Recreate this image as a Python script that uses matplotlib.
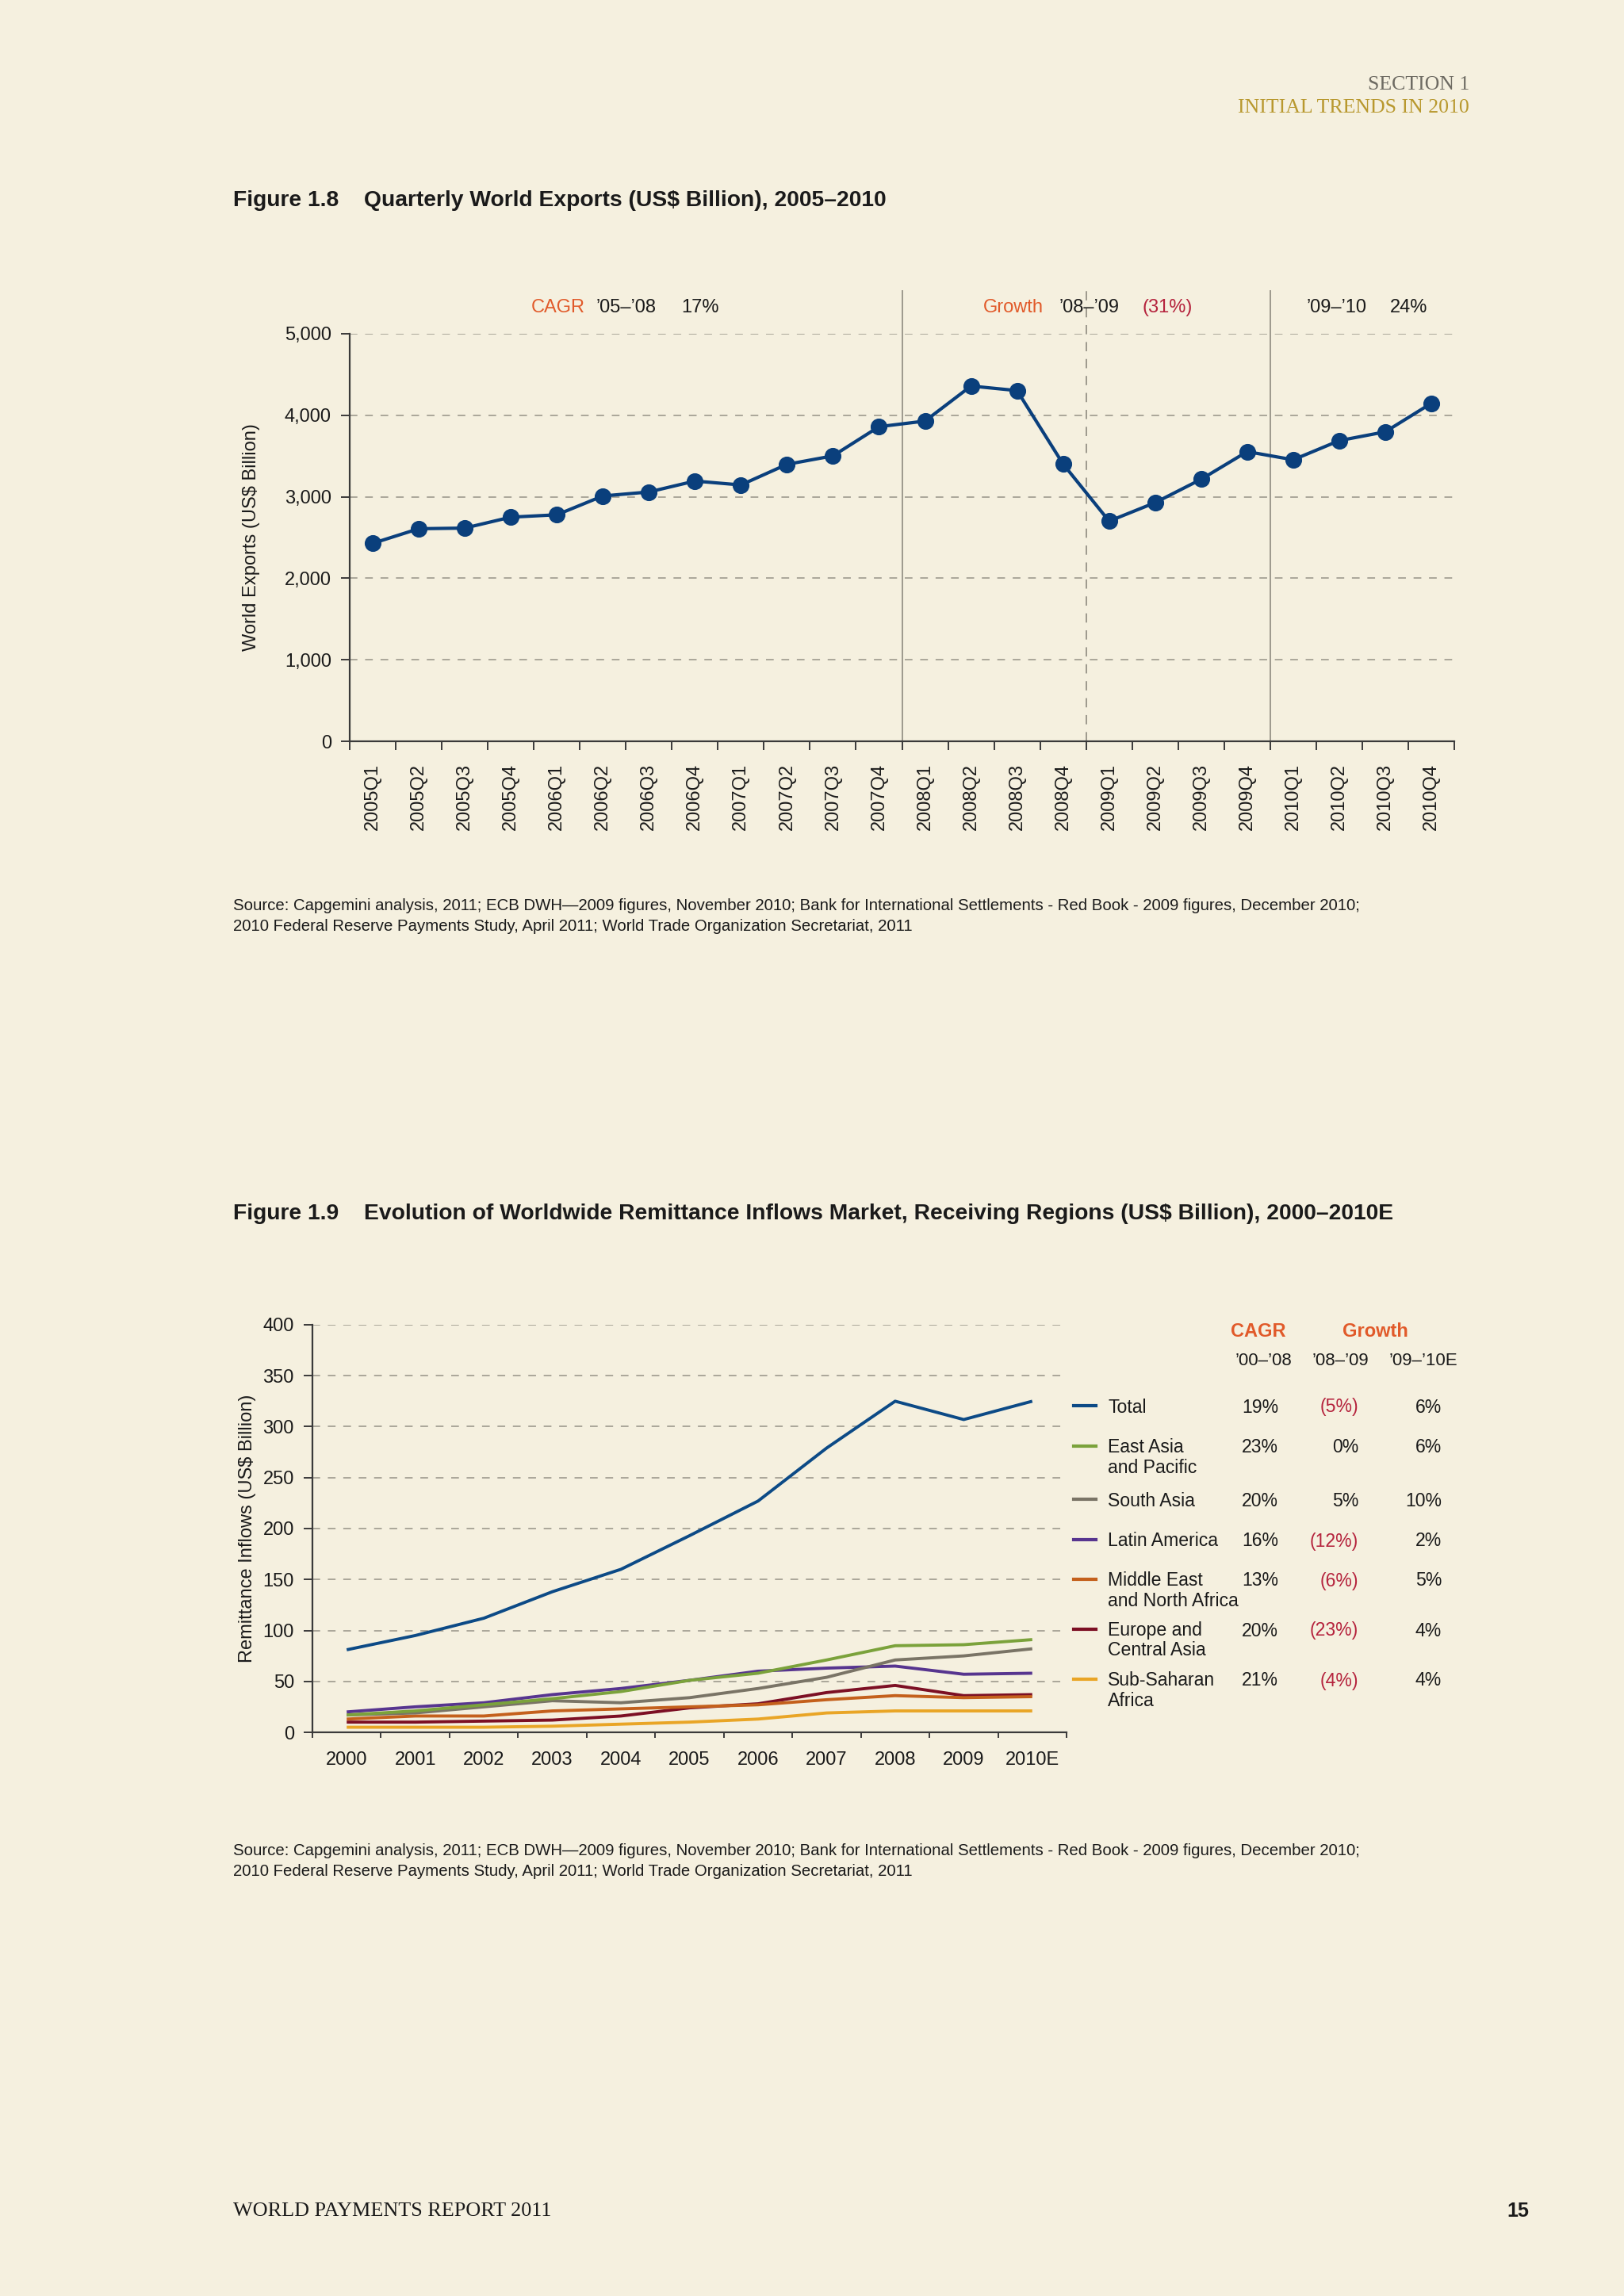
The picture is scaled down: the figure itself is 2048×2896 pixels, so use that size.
import matplotlib
matplotlib.use("Agg")
import matplotlib.pyplot as plt
from matplotlib.lines import Line2D
from matplotlib.ticker import FuncFormatter
import numpy as np

# page size in pixels, everything below is placed in page pixels
W, H = 2048, 2896
DPI = 200
BG = '#f5f0df'
INK = '#1a1a1a'
GRID = '#aaa69a'
ORANGE = '#e15a2a'
RED = '#b5233d'

plt.rcParams['font.family'] = ['Liberation Sans', 'DejaVu Sans']
plt.rcParams['font.size'] = 8.5

# Figure 1.8 data
quarters = ['2005Q1', '2005Q2', '2005Q3', '2005Q4', '2006Q1', '2006Q2', '2006Q3', '2006Q4',
            '2007Q1', '2007Q2', '2007Q3', '2007Q4', '2008Q1', '2008Q2', '2008Q3', '2008Q4',
            '2009Q1', '2009Q2', '2009Q3', '2009Q4', '2010Q1', '2010Q2', '2010Q3', '2010Q4']
exports = [2429, 2608, 2616, 2750, 2779, 3010, 3059, 3193, 3145, 3398, 3502, 3860,
           3929, 4359, 4303, 3402, 2701, 2928, 3215, 3554, 3454, 3689, 3797, 4147]

# Figure 1.9 data
years = ['2000', '2001', '2002', '2003', '2004', '2005', '2006', '2007', '2008', '2009', '2010E']
total = [81, 95, 112, 138, 160, 193, 227, 279, 325, 307, 325]
east_asia = [17, 21, 27, 33, 40, 51, 58, 71, 85, 86, 91]
south_asia = [17, 19, 25, 31, 29, 34, 43, 54, 71, 75, 82]
latin_america = [20, 25, 29, 37, 43, 51, 60, 63, 65, 57, 58]
mid_east = [13, 16, 16, 21, 23, 25, 27, 32, 36, 34, 35]
europe_ca = [10, 10, 11, 12, 16, 24, 28, 39, 46, 36, 37]
sub_saharan = [5, 5, 5, 6, 8, 10, 13, 19, 21, 21, 21]

region_labels = ['Total', 'East Asia\nand Pacific', 'South Asia', 'Latin America',
                 'Middle East\nand North Africa', 'Europe and\nCentral Asia', 'Sub-Saharan\nAfrica']
region_colors = ['#0c4a86', '#7ba23b', '#7a7466', '#57358f', '#c4601c', '#7c0f24', '#e9a526']
cagr_00_08 = ['19%', '23%', '20%', '16%', '13%', '20%', '21%']
growth_08_09 = ['(5%)', '0%', '5%', '(12%)', '(6%)', '(23%)', '(4%)']
growth_09_10 = ['6%', '6%', '10%', '2%', '5%', '4%', '4%']

source_lines = ['Source: Capgemini analysis, 2011; ECB DWH\u20142009 figures, November 2010; Bank for International Settlements - Red Book - 2009 figures, December 2010;',
                '2010 Federal Reserve Payments Study, April 2011; World Trade Organization Secretariat, 2011']


def px(x):
    return x / W


def py(y):
    return 1 - y / H


def axes_box(left, top, right, bottom):
    return [px(left), py(bottom), px(right) - px(left), py(top) - py(bottom)]


def style_axes(ax):
    ax.set_facecolor('none')
    for s in ['top', 'right']:
        ax.spines[s].set_visible(False)
    for s in ['left', 'bottom']:
        ax.spines[s].set_color('#3a3a3a')
        ax.spines[s].set_linewidth(0.8)
    ax.yaxis.grid(True, color=GRID, lw=0.7, ls=(0, (5, 5)))
    ax.set_axisbelow(True)
    ax.tick_params(axis='y', length=4, width=0.7, color='#3a3a3a', pad=4.3, labelcolor=INK)
    ax.tick_params(axis='x', which='major', width=0.7, color='#3a3a3a')
    ax.tick_params(axis='x', which='minor', length=0, labelcolor=INK)


def ftext(x, y, s, **kw):
    kw.setdefault('va', 'center')
    kw.setdefault('color', INK)
    fig.text(px(x), py(y), s, **kw)


fig = plt.figure(figsize=(W / DPI, H / DPI), dpi=DPI, facecolor=BG)

# page header / footer
ftext(1853, 107, 'SECTION 1', ha='right', family='Liberation Serif', size=9.3, color='#6d6a62')
ftext(1853, 136, 'INITIAL TRENDS IN 2010', ha='right', family='Liberation Serif', size=9.3, color='#b8982e')
ftext(294, 2789, 'WORLD PAYMENTS REPORT 2011', family='Liberation Serif', size=9.4)
ftext(1928, 2789, '15', ha='right', fontweight='bold', size=9)

# ---- Figure 1.8 ----
ftext(294, 253, 'Figure 1.8', fontweight='bold', size=10.2)
ftext(459, 253, 'Quarterly World Exports (US$ Billion), 2005\u20132010', fontweight='bold', size=10.2)

ax1 = fig.add_axes(axes_box(441, 421, 1834, 935))
style_axes(ax1)
xq = np.arange(len(quarters))
ax1.plot(xq, exports, color='#0a3f7c', lw=1.5, marker='o', ms=6.6, zorder=3, clip_on=False)
ax1.set_xlim(-0.5, len(quarters) - 0.5)
ax1.set_ylim(0, 5000)
ax1.set_yticks(np.arange(0, 5001, 1000))
ax1.yaxis.set_major_formatter(FuncFormatter(lambda v, p: f'{int(v):,}'))
ax1.set_xticks(np.arange(-0.5, len(quarters), 1))
ax1.set_xticklabels([])
ax1.set_xticks(xq, minor=True)
ax1.set_xticklabels(quarters, minor=True, rotation=90, va='top')
ax1.tick_params(axis='x', which='major', length=4)
ax1.tick_params(axis='x', which='minor', pad=10)

# period separators
for xb, ls in [(11.5, '-'), (15.5, (0, (6, 5))), (19.5, '-')]:
    ax1.axvline(xb, ymin=0, ymax=1.105, color='#9d998d', lw=0.7, ls=ls, clip_on=False)

ftext(317, 678, 'World Exports (US$ Billion)', rotation=90, ha='center')

ftext(670, 388, 'CAGR', color=ORANGE)
ftext(752, 388, '\u201905\u2013\u201908')
ftext(859, 388, '17%')
ftext(1240, 388, 'Growth', color=ORANGE)
ftext(1336, 388, '\u201908\u2013\u201909')
ftext(1440, 388, '(31%)', color=RED)
ftext(1648, 388, '\u201909\u2013\u201910')
ftext(1753, 388, '24%')

ftext(294, 1143, source_lines[0], size=7.35)
ftext(294, 1169, source_lines[1], size=7.35)

# ---- Figure 1.9 ----
ftext(294, 1531, 'Figure 1.9', fontweight='bold', size=10.2)
ftext(459, 1531, 'Evolution of Worldwide Remittance Inflows Market, Receiving Regions (US$ Billion), 2000\u20132010E',
      fontweight='bold', size=10.2)

ax2 = fig.add_axes(axes_box(394, 1671, 1345, 2185))
style_axes(ax2)
xy = np.arange(len(years))
series = [total, east_asia, south_asia, latin_america, mid_east, europe_ca, sub_saharan]
# draw smaller series first so the total line sits on top
for vals, col in reversed(list(zip(series, region_colors))):
    ax2.plot(xy, vals, color=col, lw=1.4, solid_capstyle='butt')
ax2.set_xlim(-0.5, len(years) - 0.5)
ax2.set_ylim(0, 400)
ax2.set_yticks(np.arange(0, 401, 50))
ax2.set_xticks(np.arange(-0.5, len(years), 1))
ax2.set_xticklabels([])
ax2.set_xticks(xy, minor=True)
ax2.set_xticklabels(years, minor=True)
ax2.tick_params(axis='x', which='major', length=2.6)
ax2.tick_params(axis='x', which='minor', pad=8.5)

ftext(312, 1928, 'Remittance Inflows (US$ Billion)', rotation=90, ha='center')

# table legend
ftext(1587, 1680, 'CAGR', ha='center', color=ORANGE, fontweight='bold')
ftext(1734, 1680, 'Growth', ha='center', color=ORANGE, fontweight='bold')
ftext(1593, 1716, '\u201900\u2013\u201908', ha='center', size=8)
ftext(1690, 1716, '\u201908\u2013\u201909', ha='center', size=8)
ftext(1795, 1716, '\u201909\u2013\u201910E', ha='center', size=8)

row_y = [1775, 1826, 1893, 1944, 1994, 2057, 2120]
for i, lab in enumerate(region_labels):
    y = row_y[i]
    fig.add_artist(Line2D([px(1354), px(1382)], [py(y - 2)] * 2, transform=fig.transFigure,
                          color=region_colors[i], lw=1.5))
    for j, part in enumerate(lab.split('\n')):
        ftext(1397, y + j * 25, part, size=8.3)
    ftext(1612, y, cagr_00_08[i], ha='right', size=8.3)
    g = growth_08_09[i]
    ftext(1713, y, g, ha='right', size=8.3, color=RED if g.startswith('(') else INK)
    ftext(1818, y, growth_09_10[i], ha='right', size=8.3)

ftext(294, 2335, source_lines[0], size=7.35)
ftext(294, 2361, source_lines[1], size=7.35)

fig.savefig('out.png', dpi=DPI, facecolor=BG)
